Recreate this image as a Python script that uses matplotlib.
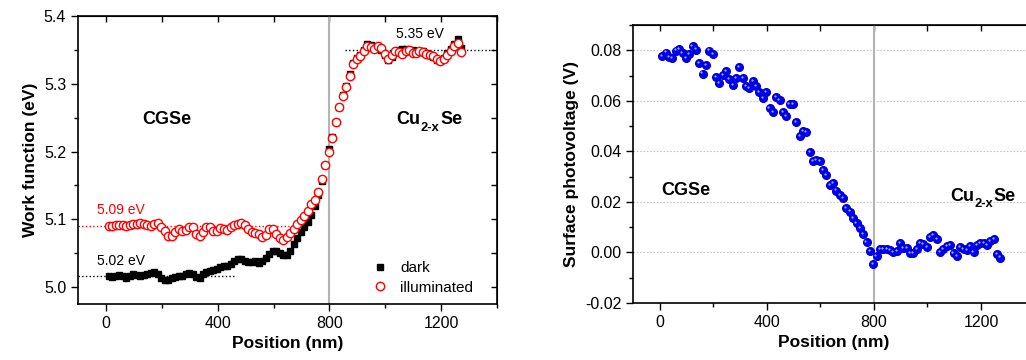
import numpy as np
import matplotlib
matplotlib.use('Agg')
import matplotlib.pyplot as plt
from matplotlib.ticker import MultipleLocator, FormatStrFormatter
from matplotlib.transforms import offset_copy

plt.rcParams['font.family'] = ['Liberation Sans', 'DejaVu Sans']
plt.rcParams['axes.unicode_minus'] = False

# scan positions (nm): first point and step
start_nm = 10.0
step_nm = 12.5
n_points = 102
position = start_nm + step_nm * np.arange(n_points)

# work function, dark (eV)
wf_dark = [5.016, 5.015, 5.017, 5.018, 5.017, 5.014, 5.016, 5.019, 5.018, 5.017,
           5.018, 5.020, 5.021, 5.022, 5.019, 5.014, 5.011, 5.011, 5.013, 5.015,
           5.016, 5.017, 5.019, 5.021, 5.019, 5.015, 5.014, 5.019, 5.022, 5.024,
           5.025, 5.027, 5.029, 5.031, 5.031, 5.034, 5.038, 5.042, 5.041, 5.039,
           5.037, 5.037, 5.038, 5.036, 5.038, 5.043, 5.049, 5.053, 5.053, 5.050,
           5.047, 5.048, 5.053, 5.063, 5.073, 5.081, 5.088, 5.096, 5.107, 5.119,
           5.136, 5.156, 5.180, 5.203, 5.222, 5.243, 5.265, 5.283, 5.297, 5.314,
           5.331, 5.338, 5.343, 5.350, 5.358, 5.357, 5.353, 5.353, 5.350, 5.342,
           5.335, 5.340, 5.347, 5.350, 5.351, 5.351, 5.350, 5.350, 5.349, 5.348,
           5.348, 5.346, 5.343, 5.339, 5.335, 5.334, 5.338, 5.345, 5.351, 5.358,
           5.366, 5.353]

# work function, illuminated (eV)
wf_illum = [5.090, 5.090, 5.091, 5.092, 5.091, 5.090, 5.092, 5.093, 5.093, 5.094,
            5.093, 5.092, 5.090, 5.093, 5.094, 5.089, 5.082, 5.076, 5.076, 5.081,
            5.085, 5.083, 5.084, 5.089, 5.088, 5.079, 5.076, 5.081, 5.088, 5.088,
            5.083, 5.082, 5.087, 5.086, 5.084, 5.088, 5.091, 5.093, 5.095, 5.091,
            5.086, 5.081, 5.080, 5.079, 5.074, 5.077, 5.085, 5.085, 5.079, 5.073,
            5.070, 5.074, 5.080, 5.086, 5.093, 5.099, 5.105, 5.112, 5.122, 5.128,
            5.141, 5.159, 5.180, 5.199, 5.220, 5.243, 5.266, 5.282, 5.295, 5.311,
            5.329, 5.336, 5.341, 5.349, 5.355, 5.354, 5.352, 5.355, 5.353, 5.344,
            5.337, 5.343, 5.349, 5.347, 5.344, 5.348, 5.350, 5.346, 5.345, 5.349,
            5.347, 5.344, 5.342, 5.341, 5.337, 5.334, 5.336, 5.343, 5.349, 5.355,
            5.360, 5.347]

# surface photovoltage (V)
spv = [0.0778, 0.0791, 0.0774, 0.0770, 0.0799, 0.0804, 0.0790, 0.0770, 0.0784, 0.0817,
       0.0803, 0.0751, 0.0708, 0.0741, 0.0799, 0.0786, 0.0695, 0.0671, 0.0702, 0.0717,
       0.0686, 0.0662, 0.0691, 0.0732, 0.0689, 0.0660, 0.0652, 0.0679, 0.0658, 0.0636,
       0.0610, 0.0633, 0.0573, 0.0557, 0.0616, 0.0603, 0.0555, 0.0540, 0.0586, 0.0586,
       0.0515, 0.0460, 0.0482, 0.0478, 0.0396, 0.0362, 0.0364, 0.0362, 0.0327, 0.0307,
       0.0268, 0.0273, 0.0245, 0.0226, 0.0216, 0.0174, 0.0162, 0.0135, 0.0115, 0.0095,
       0.0073, 0.0042, 0.0005, -0.0046, -0.0013, 0.0015, 0.0015, 0.0012, 0.0009, 0.0001,
       0.0007, 0.0037, 0.0019, 0.0019, -0.0001, -0.0001, 0.0012, 0.0036, 0.0032, 0.0020,
       0.0062, 0.0068, 0.0052, 0.0001, 0.0013, 0.0024, 0.0029, -0.0004, -0.0015, 0.0020,
       0.0013, 0.0009, 0.0026, 0.0000, 0.0029, 0.0038, 0.0036, 0.0030, 0.0046, 0.0052,
       -0.0007, -0.0020]

# plateau levels marked on the left plot
level_dark = 5.017
level_illum = 5.09
level_cuse = 5.35
interface_nm = 800

W, H = 1026, 360
fig = plt.figure(figsize=(W / 100, H / 100), dpi=100)
ax1 = fig.add_axes([78 / W, 1 - 304 / H, (497 - 78) / W, (304 - 16) / H])
ax2 = fig.add_axes([633 / W, 1 - 303 / H, (1034.5 - 633) / W, (303 - 25) / H])

label_kw = dict(fontsize=12.5, fontweight='bold')


def style_axes(ax, ymaj, ymin, yfmt, right_ticks=True):
    ax.set_xlim(-100, 1400)
    ax.xaxis.set_major_locator(MultipleLocator(400))
    ax.xaxis.set_minor_locator(MultipleLocator(200))
    ax.yaxis.set_major_locator(MultipleLocator(ymaj))
    ax.yaxis.set_minor_locator(MultipleLocator(ymin))
    ax.yaxis.set_major_formatter(FormatStrFormatter(yfmt))
    ax.tick_params(which='both', direction='out', width=1.0, labelsize=11.5)
    ax.tick_params(which='major', length=5)
    ax.tick_params(which='minor', length=3)
    for s in ax.spines.values():
        s.set_linewidth(1.2)
    # inward ticks on top (and right) like Origin
    top = ax.secondary_xaxis('top')
    top.xaxis.set_major_locator(MultipleLocator(200))
    top.tick_params(direction='in', length=4, width=1.0, labeltop=False)
    if right_ticks:
        rgt = ax.secondary_yaxis('right')
        rgt.yaxis.set_major_locator(MultipleLocator(ymin))
        rgt.tick_params(direction='in', length=4, width=1.0, labelright=False)


def cu2xse(ax, x, y, size):
    t1 = ax.text(x, y, 'Cu', fontsize=size, fontweight='bold', ha='left', va='baseline')
    t2 = ax.annotate('2-x', xy=(1, 0), xycoords=t1, xytext=(0.3, -size * 0.32),
                     textcoords='offset points', fontsize=size * 0.72,
                     fontweight='bold', ha='left', va='bottom')
    ax.annotate('Se', xy=(1, 0), xycoords=(t2, t1), xytext=(0.3, 0),
                textcoords='offset points', fontsize=size,
                fontweight='bold', ha='left', va='bottom')


# ---- left: work function
style_axes(ax1, 0.1, 0.05, '%.1f')
ax1.set_ylim(4.975, 5.4)
ax1.axvline(interface_nm, color='#b4b4b4', lw=1.5, zorder=1)
ax1.plot([-100, 655], [level_illum, level_illum], ':', color='red', lw=1.0, zorder=2)
ax1.plot([-100, 460], [level_dark, level_dark], ':', color='black', lw=1.0, zorder=2)
ax1.plot([855, 1400], [level_cuse, level_cuse], ':', color='black', lw=1.0, zorder=2)
ax1.plot(position, wf_dark, 's', color='black', ms=5, label='dark', zorder=3)
ax1.plot(position, wf_illum, 'o', mfc='white', mec='red', mew=1.0, ms=6,
         label='illuminated', zorder=4)
ax1.text(-32, 5.108, '5.09 eV', color='red', fontsize=10)
ax1.text(-32, 5.032, '5.02 eV', color='black', fontsize=10)
ax1.text(1040, 5.368, '5.35 eV', color='black', fontsize=10)
ax1.text(218, 5.247, 'CGSe', fontsize=13, fontweight='bold', ha='center', va='center')
cu2xse(ax1, 1040, 5.241, 13)
ax1.legend(loc='lower right', frameon=False, fontsize=11, handletextpad=0.5,
           handlelength=1.6, borderaxespad=0.2, labelspacing=0.35,
           bbox_to_anchor=(0.965, 0.0))
ax1.set_xlabel('Position (nm)', **label_kw)
ax1.set_ylabel('Work function (eV)', **label_kw)

# ---- right: surface photovoltage
style_axes(ax2, 0.02, 0.01, '%.2f', right_ticks=False)
ax2.set_ylim(-0.02, 0.09)
for g in np.arange(0.0, 0.081, 0.02):
    ax2.axhline(g, color='#c8c8c8', lw=0.8, ls=(0, (1.5, 1.5)), zorder=0)
ax2.axvline(interface_nm, color='#b4b4b4', lw=1.5, zorder=1)
ax2.plot(position, spv, 'o', color='#0000ff', mec='#0000cc', ms=5.5, zorder=3)
hl = offset_copy(ax2.transData, fig=fig, x=-0.8, y=0.8, units='points')
ax2.plot(position, spv, 'o', color='#9aa8ff', mec='none', ms=1.6, transform=hl, zorder=4)
ax2.text(96, 0.0247, 'CGSe', fontsize=13, fontweight='bold', ha='center', va='center')
cu2xse(ax2, 1085, 0.0205, 13)
ax2.set_xlabel('Position (nm)', **label_kw)
ax2.set_ylabel('Surface photovoltage (V)', **label_kw)

fig.savefig('out.png', dpi=100)
